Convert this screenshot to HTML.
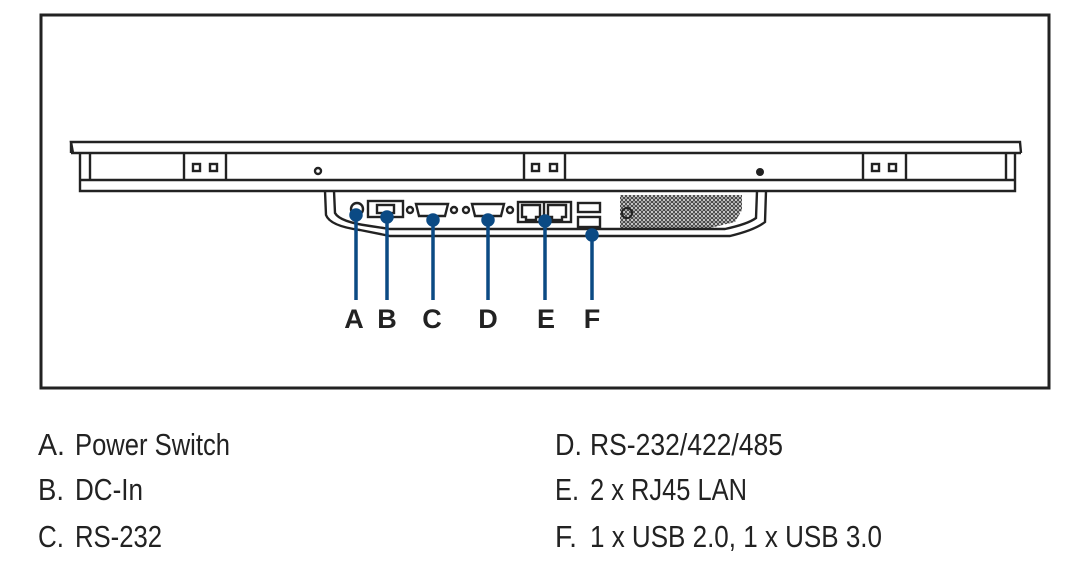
<!DOCTYPE html>
<html><head><meta charset="utf-8"><style>html,body{margin:0;padding:0;background:#fff}svg{display:block}</style></head>
<body>
<svg width="1091" height="564" viewBox="0 0 1091 564" xmlns="http://www.w3.org/2000/svg">
<rect x="41" y="15" width="1008" height="373" fill="none" stroke="#222" stroke-width="3"/>
<g fill="none" stroke="#222" stroke-width="2.4">
<path d="M73 153 L71 142 L1020 142 L1021 153"/>
<line x1="71" y1="153" x2="1021" y2="153"/>
<line x1="71" y1="141" x2="71" y2="153"/>
<path d="M80 153 L80 191 L1015 191 L1015 153"/>
<line x1="90" y1="153" x2="90" y2="180"/>
<line x1="1006" y1="153" x2="1006" y2="180"/>
<line x1="80" y1="180" x2="1015" y2="180"/>
<line x1="184" y1="153" x2="184" y2="180"/><line x1="226" y1="153" x2="226" y2="180"/>
<line x1="524" y1="153" x2="524" y2="180"/><line x1="565" y1="153" x2="565" y2="180"/>
<line x1="863" y1="153" x2="863" y2="180"/><line x1="906" y1="153" x2="906" y2="180"/>
<rect x="193" y="164" width="7" height="7"/><rect x="210" y="164" width="7" height="7"/>
<rect x="532" y="164" width="7" height="7"/><rect x="550" y="164" width="7" height="7"/>
<rect x="872" y="164" width="7" height="7"/><rect x="889" y="164" width="7" height="7"/>
<circle cx="318" cy="171" r="3"/>
<path d="M325 191 L326 215 Q330 226 360 230 L390 236 L730 236 Q755 230 765 222 L766 191"/>
<path d="M334 191 L335 213 Q340 222 370 226 L390 229 L725 229 Q748 224 756 218 L757 191"/>
<circle cx="357" cy="209" r="6"/>
<rect x="368" y="201" width="35" height="16"/>
<rect x="377" y="205" width="17" height="8"/>
<path d="M416 204 h32 l-3 12 h-26 z"/><circle cx="410" cy="210" r="3"/><circle cx="454" cy="210" r="3"/>
<path d="M472 204 h32 l-3 12 h-26 z"/><circle cx="466" cy="210" r="3"/><circle cx="510" cy="210" r="3"/>
<rect x="518" y="202" width="53" height="20"/>
<line x1="544" y1="202" x2="544" y2="222"/>
<path d="M522 205 h18 v12 h-4 v3 h-10 v-3 h-4z"/>
<path d="M548 205 h18 v12 h-4 v3 h-10 v-3 h-4z"/>
<rect x="578" y="203" width="22" height="9"/>
<rect x="578" y="217" width="22" height="10"/>
</g>
<circle cx="760" cy="172" r="4" fill="#222"/>
<circle cx="627" cy="213" r="5" fill="none" stroke="#222" stroke-width="2"/>
<defs><pattern id="v" width="4" height="4" patternUnits="userSpaceOnUse"><circle cx="2" cy="2" r="1.4" fill="none" stroke="#222" stroke-width="1"/></pattern></defs>
<path d="M620 195 H742 L742 210 L735 222 L710 228 H620 Z" fill="url(#v)"/>
<g stroke="#0b4a84" stroke-width="3.5" fill="#0b4a84">
<line x1="356" y1="215" x2="356" y2="300"/><circle cx="356" cy="215" r="5"/>
<line x1="387" y1="217" x2="387" y2="300"/><circle cx="387" cy="217" r="5"/>
<line x1="433" y1="220" x2="433" y2="300"/><circle cx="433" cy="220" r="5"/>
<line x1="488" y1="220" x2="488" y2="300"/><circle cx="488" cy="220" r="5"/>
<line x1="545" y1="221" x2="545" y2="300"/><circle cx="545" cy="221" r="5"/>
<line x1="592" y1="235" x2="592" y2="300"/><circle cx="592" cy="235" r="5"/>
</g>
<g font-family="Liberation Sans, sans-serif" font-weight="bold" font-size="27" fill="#222" text-anchor="middle">
<text x="354" y="328">A</text><text x="387" y="328">B</text><text x="432" y="328">C</text>
<text x="488" y="328">D</text><text x="546" y="328">E</text><text x="592" y="328">F</text>
</g>
<g font-family="Liberation Sans, sans-serif" font-size="31" fill="#222">
<text x="38" y="455" textLength="27" lengthAdjust="spacingAndGlyphs">A.</text>
<text x="75" y="455" textLength="155" lengthAdjust="spacingAndGlyphs">Power Switch</text>
<text x="38" y="500" textLength="26" lengthAdjust="spacingAndGlyphs">B.</text>
<text x="75" y="500" textLength="68" lengthAdjust="spacingAndGlyphs">DC-In</text>
<text x="38" y="547" textLength="26" lengthAdjust="spacingAndGlyphs">C.</text>
<text x="75" y="547" textLength="87" lengthAdjust="spacingAndGlyphs">RS-232</text>
<text x="555" y="455" textLength="27" lengthAdjust="spacingAndGlyphs">D.</text>
<text x="590" y="455" textLength="193" lengthAdjust="spacingAndGlyphs">RS-232/422/485</text>
<text x="555" y="500" textLength="24" lengthAdjust="spacingAndGlyphs">E.</text>
<text x="590" y="500" textLength="157" lengthAdjust="spacingAndGlyphs">2 x RJ45 LAN</text>
<text x="555" y="547" textLength="22" lengthAdjust="spacingAndGlyphs">F.</text>
<text x="590" y="547" textLength="292" lengthAdjust="spacingAndGlyphs">1 x USB 2.0, 1 x USB 3.0</text>
</g>
</svg>
</body></html>
